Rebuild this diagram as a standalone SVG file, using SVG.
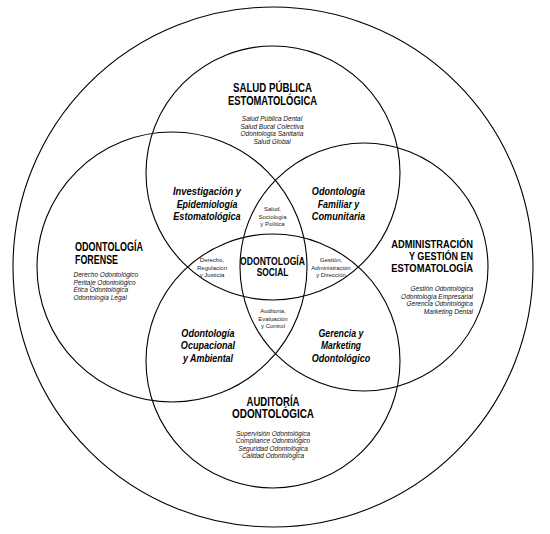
<svg xmlns="http://www.w3.org/2000/svg" width="550" height="534" viewBox="0 0 550 534">
<style>
.c{fill:none;stroke:#000;stroke-width:1.1}
.t{font-family:"Liberation Sans","Liberation Sans Narrow",Arial,sans-serif;font-weight:bold;font-size:12.3px;fill:#000}
.r{font-size:11.4px}
.i{font-family:"Liberation Sans","Liberation Sans Narrow",Arial,sans-serif;font-weight:bold;font-style:italic;font-size:11.8px;fill:#000}
.s{font-family:"Liberation Sans",Arial,sans-serif;font-style:italic;font-size:6.5px;fill:#111}
.m{font-family:"Liberation Sans",Arial,sans-serif;font-size:6px;fill:#222}
.cs{font-family:"Liberation Sans",Arial,sans-serif;font-weight:bold;font-size:10px;fill:#000}
.mid{text-anchor:middle}
.end{text-anchor:end}
</style>
<rect width="550" height="534" fill="#fff"/>
<g id="connectors"></g>
<g id="outer"><circle class="c" cx="273" cy="267" r="260"/></g>
<g id="salud-publica">
<circle class="c" cx="273" cy="173" r="127"/>
<text class="t mid" x="272.5" y="92" textLength="79" lengthAdjust="spacingAndGlyphs">SALUD PÚBLICA</text>
<text class="t mid" x="272.5" y="104.5" textLength="89" lengthAdjust="spacingAndGlyphs">ESTOMATOLÓGICA</text>
<text class="s mid" x="272" y="121">Salud Pública Dental</text>
<text class="s mid" x="272" y="128.6">Salud Bucal Colectiva</text>
<text class="s mid" x="272" y="136.2">Odontología Sanitaria</text>
<text class="s mid" x="272" y="143.8">Salud Global</text>
</g>
<g id="forense">
<circle class="c" cx="172" cy="267" r="135"/>
<text class="t" x="75" y="251" textLength="68" lengthAdjust="spacingAndGlyphs">ODONTOLOGÍA</text>
<text class="t" x="75" y="263.5" textLength="43" lengthAdjust="spacingAndGlyphs">FORENSE</text>
<text class="s" x="73.5" y="277">Derecho Odontológico</text>
<text class="s" x="73.5" y="284.6">Peritaje Odontológico</text>
<text class="s" x="73.5" y="292.2">Ética Odontológica</text>
<text class="s" x="73.5" y="299.8">Odontología Legal</text>
</g>
<g id="administracion">
<circle class="c" cx="364" cy="267" r="124"/>
<text class="t r end" x="473" y="247.5" textLength="81.7" lengthAdjust="spacingAndGlyphs">ADMINISTRACIÓN</text>
<text class="t r end" x="473" y="259.8" textLength="64" lengthAdjust="spacingAndGlyphs">Y GESTIÓN EN</text>
<text class="t r end" x="473" y="272.1" textLength="81.7" lengthAdjust="spacingAndGlyphs">ESTOMATOLOGÍA</text>
<text class="s end" x="473" y="291">Gestión Odontológica</text>
<text class="s end" x="473" y="298.6">Odontología Empresarial</text>
<text class="s end" x="473" y="306.2">Gerencia Odontológica</text>
<text class="s end" x="473" y="313.8">Marketing Dental</text>
</g>
<g id="auditoria">
<circle class="c" cx="273" cy="361" r="127"/>
<text class="t mid" x="273" y="405.5" textLength="53" lengthAdjust="spacingAndGlyphs">AUDITORÍA</text>
<text class="t mid" x="273" y="418" textLength="82" lengthAdjust="spacingAndGlyphs">ODONTOLÓGICA</text>
<text class="s mid" x="273" y="435.5">Supervisión Odontológica</text>
<text class="s mid" x="273" y="443.1">Compliance Odontológico</text>
<text class="s mid" x="273" y="450.7">Seguridad Odontológica</text>
<text class="s mid" x="273" y="458.3">Calidad Odontológica</text>
</g>
<g id="investigacion">
<text class="i mid" x="207" y="195" textLength="68" lengthAdjust="spacingAndGlyphs">Investigación y</text>
<text class="i mid" x="207" y="207.5" textLength="60.7" lengthAdjust="spacingAndGlyphs">Epidemiología</text>
<text class="i mid" x="207" y="220" textLength="67.3" lengthAdjust="spacingAndGlyphs">Estomatológica</text>
</g>
<g id="familiar">
<text class="i mid" x="338.5" y="195" textLength="53.3" lengthAdjust="spacingAndGlyphs">Odontología</text>
<text class="i mid" x="338.5" y="207.5" textLength="41.7" lengthAdjust="spacingAndGlyphs">Familiar y</text>
<text class="i mid" x="338.5" y="220" textLength="53.3" lengthAdjust="spacingAndGlyphs">Comunitaria</text>
</g>
<g id="ocupacional">
<text class="i mid" x="208" y="336.5" textLength="53.3" lengthAdjust="spacingAndGlyphs">Odontología</text>
<text class="i mid" x="208" y="349" textLength="54.3" lengthAdjust="spacingAndGlyphs">Ocupacional</text>
<text class="i mid" x="208" y="361.5" textLength="50" lengthAdjust="spacingAndGlyphs">y Ambiental</text>
</g>
<g id="gerencia">
<text class="i mid" x="341" y="336.5" textLength="45" lengthAdjust="spacingAndGlyphs">Gerencia y</text>
<text class="i mid" x="341" y="349" textLength="40" lengthAdjust="spacingAndGlyphs">Marketing</text>
<text class="i mid" x="341" y="361.5" textLength="58.3" lengthAdjust="spacingAndGlyphs">Odontológico</text>
</g>
<g id="salud-sociologia">
<text class="m mid" x="272.5" y="211">Salud,</text>
<text class="m mid" x="272.5" y="218.5">Sociología</text>
<text class="m mid" x="272.5" y="226">y Política</text>
</g>
<g id="derecho">
<text class="m mid" x="212" y="262">Derecho,</text>
<text class="m mid" x="212" y="269.5">Regulación</text>
<text class="m mid" x="212" y="277">y Justicia</text>
</g>
<g id="gestion">
<text class="m mid" x="331" y="262">Gestión,</text>
<text class="m mid" x="331" y="269.5">Administración</text>
<text class="m mid" x="331" y="277">y Dirección</text>
</g>
<g id="evaluacion">
<text class="m mid" x="273" y="313">Auditoría,</text>
<text class="m mid" x="273" y="320.5">Evaluación</text>
<text class="m mid" x="273" y="328">y Control</text>
</g>
<g id="odontologia-social">
<text class="cs mid" x="272.5" y="265" textLength="65" lengthAdjust="spacingAndGlyphs">ODONTOLOGÍA</text>
<text class="cs mid" x="272.5" y="275.5" textLength="31.7" lengthAdjust="spacingAndGlyphs">SOCIAL</text>
</g>
</svg>
